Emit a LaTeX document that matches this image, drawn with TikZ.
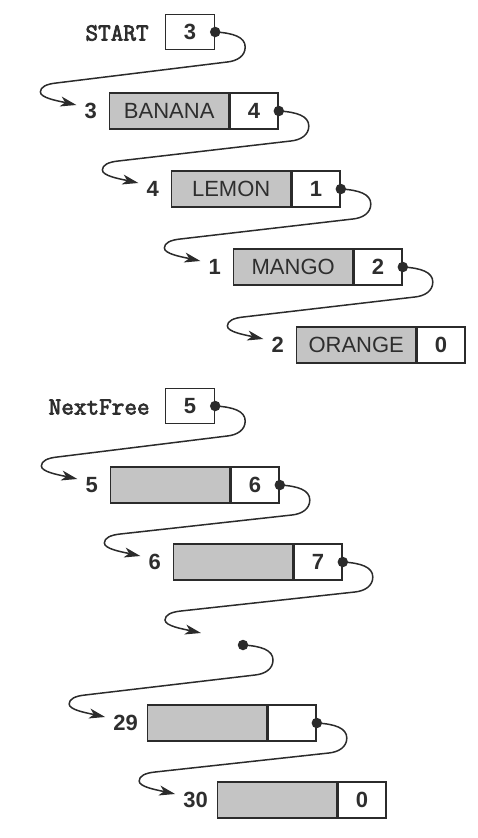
\documentclass[tikz,border=0pt]{standalone}
\usepackage{fontspec}
\setmainfont{Liberation Sans}
\newfontfamily\monob{Latin Modern Mono}[FakeBold=3]
\usetikzlibrary{arrows.meta,calc}
\definecolor{ln}{HTML}{2B2B2B}
\definecolor{shade}{HTML}{C4C4C4}
\definecolor{txt}{HTML}{2E2E2E}
\newcommand\fsans{\fontsize{22}{26}\selectfont}
\newcommand\fbold{\fontsize{22}{26}\selectfont\bfseries}
\newcommand\fmono{\monob\fontsize{24.5}{28}\selectfont}
\newcommand\lnk[2]{%
  \draw[link] (#1) .. controls ($(#1)+(18,1)$) and ($(#1)+(30,5)$) .. ($(#1)+(30,15)$)
    .. controls ($(#1)+(30,24)$) and ($(#1)+(22,29)$) .. ($(#1)+(12,30)$)
    -- ($(#2)+(-20,-22)$)
    .. controls ($(#2)+(-30,-21)$) and ($(#2)+(-36,-18)$) .. ($(#2)+(-36,-13)$)
    .. controls ($(#2)+(-36,-7)$) and ($(#2)+(-18,-4)$) .. (#2);}
\begin{document}
\begin{tikzpicture}[x=1pt,y=-1pt,
  datacell/.style={draw=ln, line width=1.4pt, fill=shade, minimum width=119pt, minimum height=36pt, inner sep=0pt, anchor=west, font=\fsans, text=txt},
  ptrcell/.style={draw=ln, line width=1.4pt, fill=white, minimum width=48pt, minimum height=36pt, inner sep=0pt, anchor=west, font=\fbold, text=txt},
  varbox/.style={draw=ln, line width=1.4pt, fill=white, minimum width=49pt, minimum height=35pt, inner sep=0pt, font=\fbold, text=txt},
  idx/.style={anchor=east, inner sep=0pt, font=\fbold, text=txt},
  varname/.style={anchor=east, inner sep=0pt, font=\fmono, text=txt},
  dotmark/.style={circle, fill=ln, minimum size=10.5pt, inner sep=0pt},
  link/.style={draw=ln, line width=1.5pt, -{Stealth[length=16pt,width=10pt,inset=4.5pt]}}]
\useasboundingbox (0,0) rectangle (478,838);

% ---------- first list ----------
\node[varbox] (sbox) at (190,32) {3};
\node[varname] (sname) at ($(sbox.west)+(-16,1)$) {START};

\node[datacell] (c1) at (109,111) {BANANA};
\node[ptrcell] (c1p) at (c1.east) {4};
\node[idx] (l1) at ($(c1.west)+(-12,0)$) {3};

\node[datacell] (c2) at (171,189) {LEMON};
\node[ptrcell] (c2p) at (c2.east) {1};
\node[idx] (l2) at ($(c2.west)+(-12,0)$) {4};

\node[datacell] (c3) at (233,267) {MANGO};
\node[ptrcell] (c3p) at (c3.east) {2};
\node[idx] (l3) at ($(c3.west)+(-12,0)$) {1};

\node[datacell] (c4) at (296,345) {ORANGE};
\node[ptrcell] (c4p) at (c4.east) {0};
\node[idx] (l4) at ($(c4.west)+(-12,0)$) {2};

% ---------- free list ----------
\node[varbox] (nbox) at (190,406) {5};
\node[varname] (nname) at ($(nbox.west)+(-15,1)$) {NextFree};

\node[datacell] (c5) at (110,485) {};
\node[ptrcell] (c5p) at (c5.east) {6};
\node[idx] (l5) at ($(c5.west)+(-12,0)$) {5};

\node[datacell] (c6) at (173,562) {};
\node[ptrcell] (c6p) at (c6.east) {7};
\node[idx] (l6) at ($(c6.west)+(-12,0)$) {6};

\node[datacell] (c29) at (147,723) {};
\node[ptrcell] (c29p) at (c29.east) {};
\node[idx] (l29) at ($(c29.west)+(-9,0)$) {29};

\node[datacell] (c30) at (217,800) {};
\node[ptrcell] (c30p) at (c30.east) {0};
\node[idx] (l30) at ($(c30.west)+(-9,0)$) {30};

% ---------- pointer sources and arrow tips ----------
\coordinate (p0) at (sbox.east);
\coordinate (p1) at (c1p.east);
\coordinate (p2) at (c2p.east);
\coordinate (p3) at (c3p.east);
\coordinate (q0) at (nbox.east);
\coordinate (p5) at (c5p.east);
\coordinate (p6) at (c6p.east);
\coordinate (pf) at (243,645);
\coordinate (p29) at (c29p.east);

\coordinate (t1) at ($(l1.west)+(-8,-6)$);
\coordinate (t2) at ($(l2.west)+(-8,-6)$);
\coordinate (t3) at ($(l3.west)+(-8,-6)$);
\coordinate (t4) at ($(l4.west)+(-8,-6)$);
\coordinate (t5) at ($(l5.west)+(-8,-6)$);
\coordinate (t6) at ($(l6.west)+(-8,-6)$);
\coordinate (tg) at (201,633);
\coordinate (t29) at ($(l29.west)+(-8,-6)$);
\coordinate (t30) at ($(l30.west)+(-8,-6)$);

\lnk{p0}{t1}
\lnk{p1}{t2}
\lnk{p2}{t3}
\lnk{p3}{t4}
\lnk{q0}{t5}
\lnk{p5}{t6}
\lnk{p6}{tg}
\lnk{pf}{t29}
\lnk{p29}{t30}

\foreach \p in {p0,p1,p2,p3,q0,p5,p6,pf,p29}
  \node[dotmark] (d\p) at (\p) {};
\end{tikzpicture}
\end{document}
